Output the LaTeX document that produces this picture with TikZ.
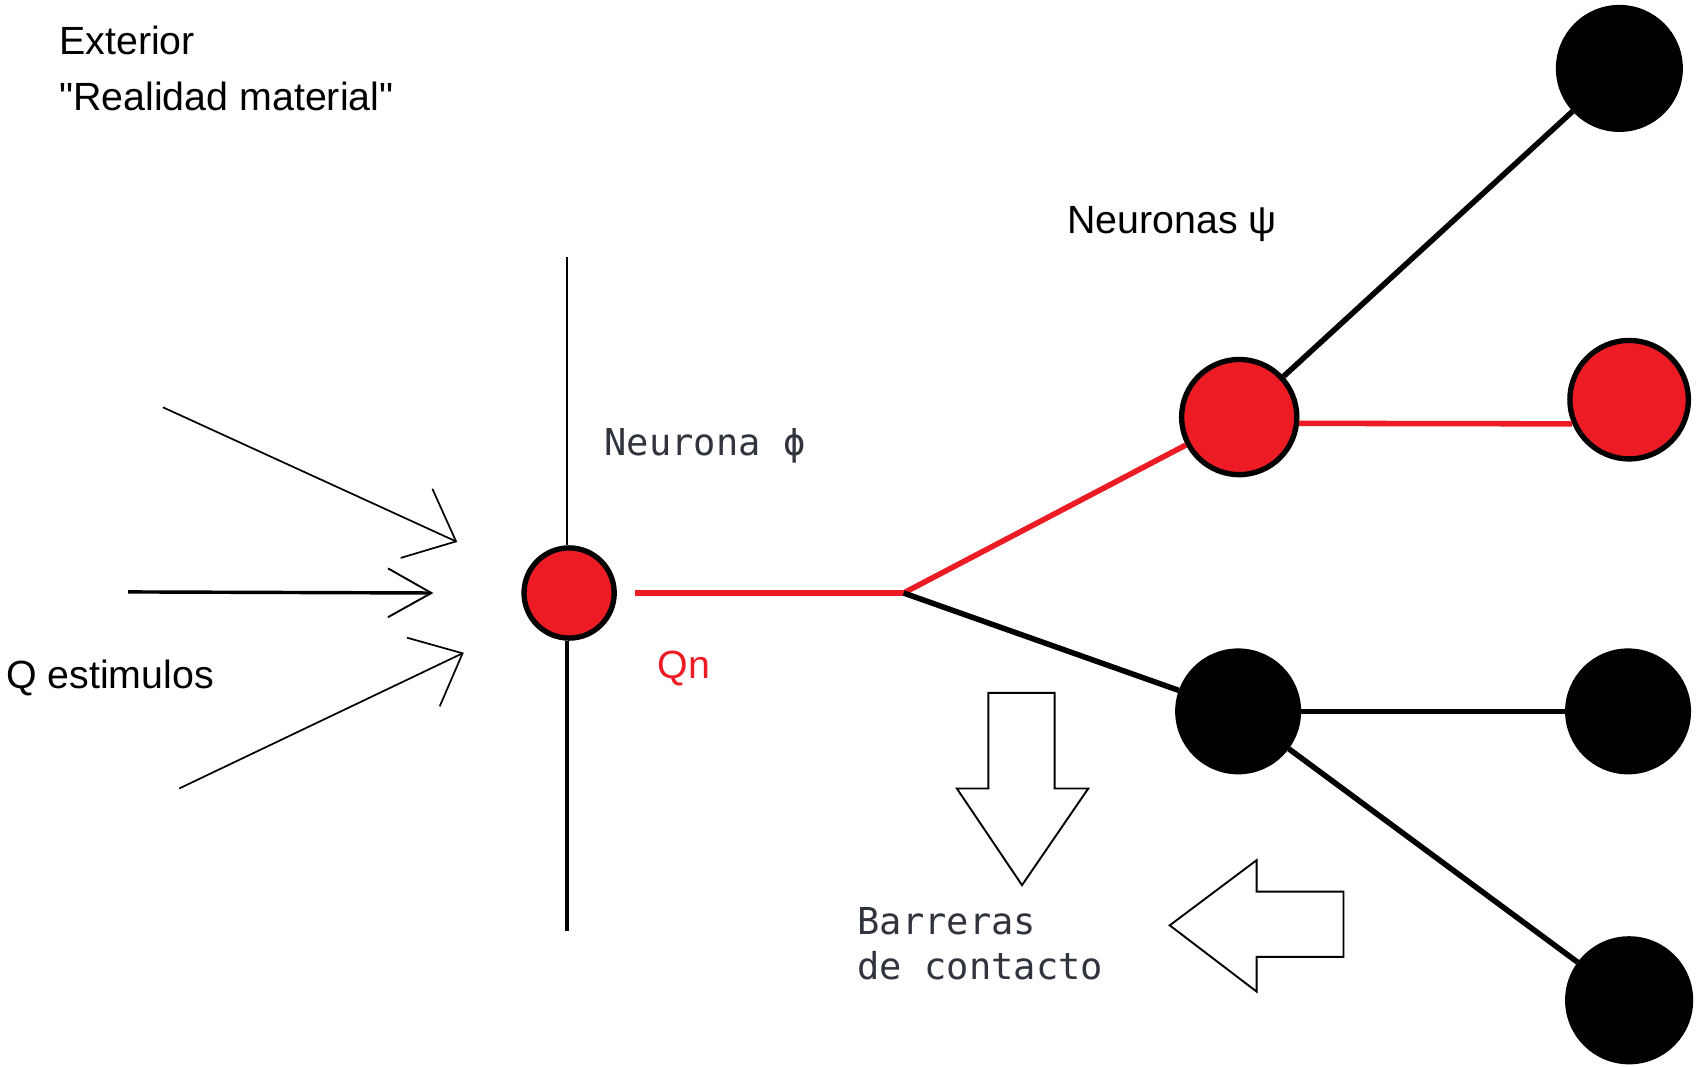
\documentclass[tikz,border=0pt]{standalone}
\usepackage{fontspec}
\setmainfont{Liberation Sans}
\newfontfamily\monofont{DejaVu Sans Mono}
\usepackage{tikz}
\usetikzlibrary{arrows.meta}
\definecolor{paintred}{RGB}{237,28,36}
\definecolor{txtgray}{RGB}{48,52,60}

\begin{document}
\begin{tikzpicture}[x=0.01cm, y=-0.01cm]
\tikzset{neuron/.style={circle, draw=black, line width=1.4pt, inner sep=0pt, minimum size=#1}}
\tikzset{redn/.style={neuron=#1, fill=paintred}, blackn/.style={neuron=#1, fill=black}}
\tikzset{redlink/.style={draw=paintred, line width=1.45pt}, blacklink/.style={draw=black, line width=1.45pt}}
\tikzset{sanstext/.style={font=\fontsize{10.3}{12}\selectfont, inner sep=0pt, anchor=base west}}
\tikzset{monotext/.style={font=\monofont\fontsize{9.7}{11.7}\selectfont, text=txtgray, inner sep=0pt}}
\tikzset{stim/.style={line width=0.45pt, -{Straight Barb[length=0.4cm, width=0.7cm, line width=0.45pt]}}}
\tikzset{bigarrow/.style={draw=black, line width=0.5pt, fill=white}}

\useasboundingbox (0,0) rectangle (1568,982);

\node[sanstext] (ext) at (54,50) {Exterior};
\node[sanstext] (real) at (54,102) {\textquotedbl Realidad material\textquotedbl};
\node[sanstext] (psilab) at (982,215) {Neuronas ψ};
\node[sanstext] (qest) at (5,634) {Q estimulos};
\node[sanstext, text=paintred] (qn) at (605,625) {Qn};
\node[monotext, anchor=base west] (philab) at (556,419) {Neurona ϕ};
\node[monotext, anchor=west, align=left] (barr) at (789,869) {Barreras\\de contacto};

% neuronas
\node[redn=0.83cm] (phi) at (524,546) {};
\node[redn=1.06cm] (psiR) at (1141,384) {};
\node[redn=1.09cm] (redR) at (1500,368) {};
\node[blackn=1.12cm] (topB) at (1491,63) {};
\node[blackn=1.11cm] (lowB) at (1140,655) {};
\node[blackn=1.11cm] (midB) at (1499,655) {};
\node[blackn=1.13cm] (botB) at (1500,921) {};

\coordinate (axTop) at (522,237);
\coordinate (axBot) at (522,857);
\coordinate (branch) at (832,546);

\draw[line width=0.45pt] (axTop) -- (phi.north -| axTop);
\draw[line width=1.15pt] (phi.south -| axBot) -- (axBot);

\draw[redlink, shorten <=0.17cm] (phi) -- (branch);
\draw[redlink] (branch) -- (psiR);
\draw[redlink] (psiR.-6) -- (redR.203);
\draw[blacklink] (branch) -- (lowB);
\draw[blacklink] (psiR) -- (topB);
\draw[blacklink] (lowB) -- (midB);
\draw[blacklink] (lowB) -- (botB);

% estimulos
\coordinate (s1) at (150,375); \coordinate (t1) at (421,499);
\coordinate (s2) at (118,545); \coordinate (t2) at (399,546);
\coordinate (s3) at (165,726); \coordinate (t3) at (427,601);
\draw[stim] (s1) -- (t1);
\draw[line width=0.9pt, -{Straight Barb[length=0.4cm, width=0.45cm, line width=0.5pt]}] (s2) -- (t2);
\draw[stim] (s3) -- (t3);

% barreras
\draw[bigarrow] (910,638) -- (971,638) -- (971,726) -- (1002,726) -- (941,815) -- (881,726) -- (910,726) -- cycle;
\draw[bigarrow] (1237,821) -- (1157,821) -- (1157,792) -- (1077,852) -- (1157,913) -- (1157,881) -- (1237,881) -- cycle;
\end{tikzpicture}
\end{document}
